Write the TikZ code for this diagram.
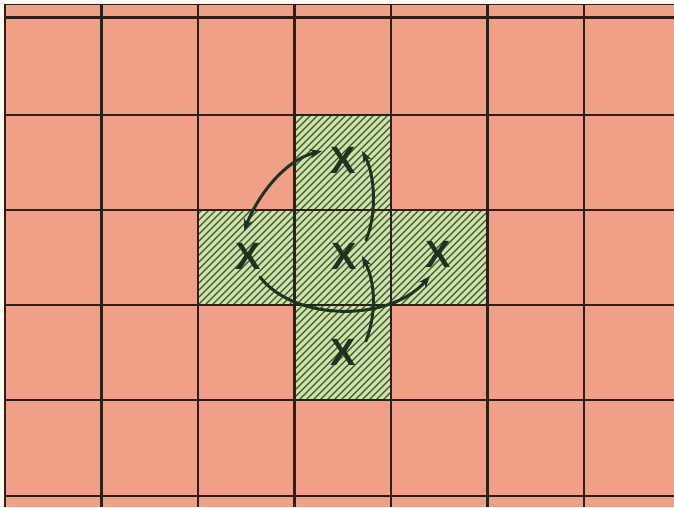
\documentclass[tikz,border=0pt]{standalone}
\usepackage{fontspec}
\setsansfont{Liberation Sans}
\usetikzlibrary{arrows.meta}
\definecolor{paper}{HTML}{FBF8F0}
\definecolor{salmon}{HTML}{F0A086}
\definecolor{lightgreen}{HTML}{D0E2A8}
\definecolor{hatch}{HTML}{3A5633}
\definecolor{gridline}{HTML}{2A2218}
\definecolor{ink}{HTML}{1E3320}
\tikzset{
  gridrule/.style={draw=gridline, line width=2.2pt},
  cellx/.style={font=\sffamily\bfseries\fontsize{38}{38}\selectfont, text=ink, inner sep=0pt},
  mover/.style={draw=ink, line width=3pt, line cap=round},
  tip/.style={-{Stealth[length=12pt,width=9pt]}},
  bothtips/.style={{Stealth[length=12pt,width=9pt]}-{Stealth[length=12pt,width=9pt]}}
}
\begin{document}
\begin{tikzpicture}[x=1pt,y=-1pt]
\useasboundingbox (0,0) rectangle (674,507);
\fill[paper] (0,0) rectangle (674,507);
\fill[salmon] (5,4) rectangle (674,507);
% green cross
\fill[lightgreen] (294.5,115) rectangle (391,210);
\fill[lightgreen] (198,210) rectangle (487.5,305);
\fill[lightgreen] (294.5,305) rectangle (391,400);
\begin{scope}
  \clip (294.5,115) rectangle (391,210) (198,210) rectangle (487.5,305) (294.5,305) rectangle (391,400);
  \foreach \c in {-100,-93,...,500}{
    \draw[hatch, line width=1.15pt] (\c,400) -- (\c+300,100);
  }
\end{scope}
% grid
\draw[gridline, line width=1pt] (5,4) -- (674,4);
\foreach \x in {5,101.5,198,294.5,391,487.5,584}{
  \draw[gridrule] (\x,4) -- (\x,507);
}
\foreach \y in {17.5,115,210,305,400,496}{
  \draw[gridrule] (5,\y) -- (674,\y);
}
% X marks
\node[cellx] (xt) at (343,160) {X};
\node[cellx] (xl) at (248,256) {X};
\node[cellx] (xc) at (344,256) {X};
\node[cellx] (xr) at (438,254) {X};
\node[cellx] (xb) at (343,352) {X};
% arrow ends
\coordinate (a1s) at (322,151);
\coordinate (a1e) at (244,231);
\coordinate (a2s) at (366,240);
\coordinate (a2e) at (362,151);
\coordinate (a3s) at (366,341);
\coordinate (a3e) at (362,256);
\coordinate (a4s) at (260,277);
\coordinate (a4e) at (430,276);
\draw[mover, bothtips] (a1s) .. controls (285,160) and (258,195) .. (a1e);
\draw[mover, tip] (a2s) .. controls (377,215) and (375,175) .. (a2e);
\draw[mover, tip] (a3s) .. controls (377,312) and (375,282) .. (a3e);
\draw[mover, tip] (a4s) .. controls (295,322) and (390,322) .. (a4e);
\end{tikzpicture}
\end{document}
